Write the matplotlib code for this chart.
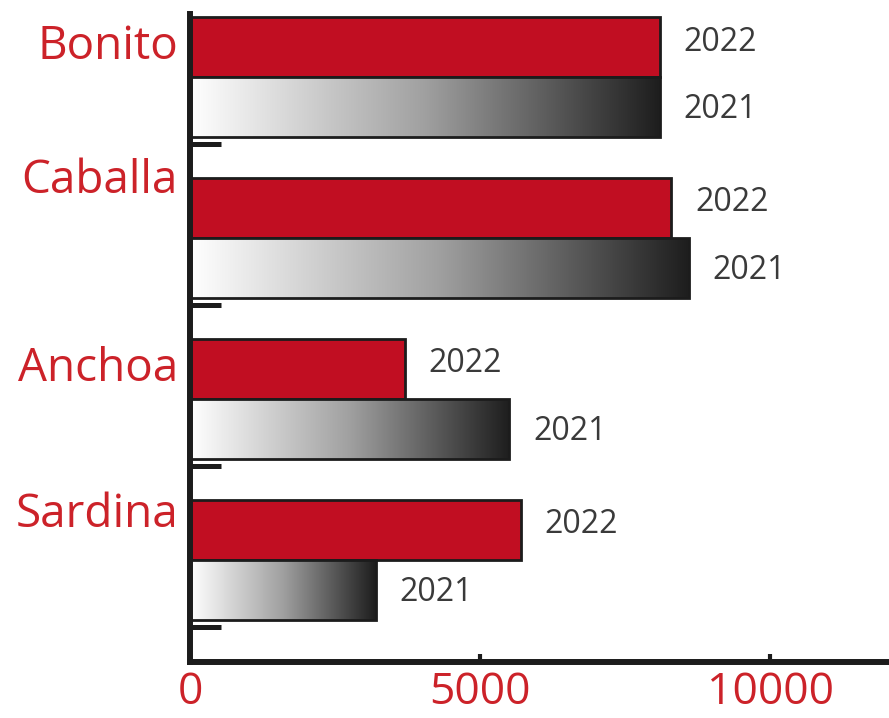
import numpy as np
import matplotlib
matplotlib.use("Agg")
from matplotlib import pyplot as plt
from matplotlib.colors import LinearSegmentedColormap

# datos (toneladas aprox.)
especies = ["Bonito", "Caballa", "Anchoa", "Sardina"]
valores_2022 = [8100, 8300, 3700, 5700]
valores_2021 = [8100, 8600, 5500, 3200]
años = ["2022", "2021"]
ticks_x = [0, 5000, 10000]

rojo = "#c10e22"
rojo_texto = "#cc2229"
gris_texto = "#3a3a3a"
negro = "#1c1c1c"

plt.rcParams['font.family'] = ['Open Sans', 'DejaVu Sans']

fig = plt.figure(figsize=(8.89, 7.18), dpi=100)
ax = fig.add_axes([190 / 889, 1 - 662 / 718, 1 - 190 / 889, (662 - 14) / 718])

h = 0.373
y = np.arange(len(especies))

b22 = ax.barh(y, valores_2022, height=h, color=rojo, edgecolor=negro, linewidth=2, zorder=3)
b21 = ax.barh(y + h, valores_2021, height=h, color="none", edgecolor=negro, linewidth=2, zorder=4)

# degradado blanco -> negro en las barras de 2021
cmap = LinearSegmentedColormap.from_list("deg", ["#ffffff", "#a0a0a0", "#1e1e1e"])
grad = np.linspace(0, 1, 256).reshape(1, -1)
for bar in b21:
    x0, y0 = bar.get_x(), bar.get_y()
    w, hh = bar.get_width(), bar.get_height()
    im = ax.imshow(grad, cmap=cmap, aspect="auto", extent=(x0, x0 + w, y0 + hh, y0),
                   interpolation="bicubic", zorder=3.5)
    im.set_clip_path(bar)

ax.set_xlim(0, 12050)
ax.set_ylim(3.82, -0.205)

# etiquetas de año
for bars, lab, dy in zip([b22, b21], años, [5, -2]):
    for bar in bars:
        ax.annotate(lab, xy=(bar.get_width(), bar.get_y() + bar.get_height() / 2),
                    xytext=(24, dy), textcoords="offset pixels", ha="left", va="center",
                    fontsize=23, color=gris_texto)

# nombres de especies
nudge = [0.0, -0.17, 0.0, -0.09]
for i, nombre in enumerate(especies):
    ax.annotate(nombre, xy=(0, y[i] + nudge[i]), xytext=(-12, 0), textcoords="offset pixels",
                xycoords=("axes fraction", "data"), ha="right", va="center",
                fontsize=33, color=rojo_texto, annotation_clip=False)

for s in ["top", "right"]:
    ax.spines[s].set_visible(False)
for s in ["left", "bottom"]:
    ax.spines[s].set_linewidth(4.3)
    ax.spines[s].set_color(negro)
    ax.spines[s].set_zorder(5)

ax.set_yticks(y + 0.6)
ax.set_yticklabels([])
ax.tick_params(axis="y", direction="in", length=22, width=3.6, color=negro)
ax.set_xticks(ticks_x)
ax.set_xticklabels([str(t) for t in ticks_x])
ax.tick_params(axis="x", direction="in", length=6, width=3, color=negro,
               labelsize=32, labelcolor=rojo_texto, pad=6)

plt.savefig("out.png", dpi=100)
